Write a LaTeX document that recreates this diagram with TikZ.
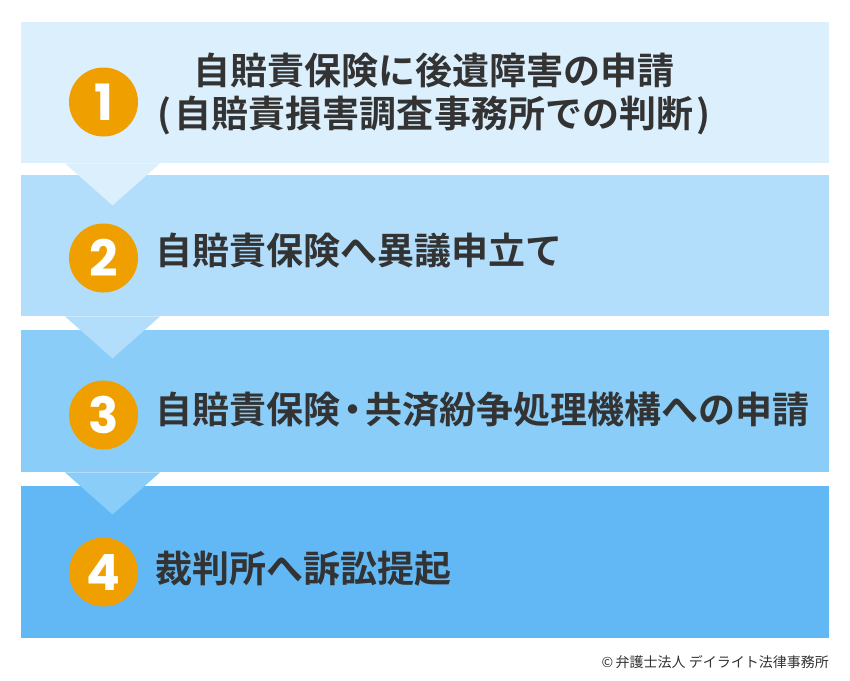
\documentclass[tikz,border=0pt]{standalone}
\usepackage{fontspec}
\setmainfont{Noto Sans CJK JP}[BoldFont={Noto Sans CJK JP Bold}]
\newfontfamily\digitfont{Poppins}[BoldFont={Poppins Bold}]
\begin{document}
\begin{tikzpicture}[x=1pt,y=-1pt,
  stepbox/.style={draw=none,rectangle,minimum width=808pt,inner sep=0pt,anchor=north west},
  numcirc/.style={circle,fill=orangeC,minimum size=69pt,inner sep=0pt,text=white,font=\digitfont\bfseries\fontsize{50}{50}\selectfont},
  steptext/.style={text=textC,font=\bfseries\fontsize{37}{43}\selectfont,inner sep=0pt},
  pointer/.style={draw=none}]
\definecolor{boxA}{HTML}{DCEFFD}
\definecolor{boxB}{HTML}{B2DDFB}
\definecolor{boxC}{HTML}{89CDF8}
\definecolor{boxD}{HTML}{62B8F5}
\definecolor{orangeC}{HTML}{EFA000}
\definecolor{textC}{HTML}{333333}
\useasboundingbox[fill=white] (0,0) rectangle (850,680);
% boxes
\node[stepbox,fill=boxA,minimum height=141pt] (b1) at (21,22) {};
\node[stepbox,fill=boxB,minimum height=141pt] (b2) at (21,175) {};
\node[stepbox,fill=boxC,minimum height=142pt] (b3) at (21,330) {};
\node[stepbox,fill=boxD,minimum height=152pt] (b4) at (21,486) {};
% pointers
\coordinate (t1) at ([xshift=91.5pt]b1.south west);
\coordinate (t2) at ([xshift=91.5pt]b2.south west);
\coordinate (t3) at ([xshift=91.5pt]b3.south west);
\fill[boxA] ([xshift=-47.5pt]t1) -- ([xshift=47.5pt]t1) -- ([yshift=-42pt]t1) -- cycle;
\fill[boxB] ([xshift=-47.5pt]t2) -- ([xshift=47.5pt]t2) -- ([yshift=-42pt]t2) -- cycle;
\fill[boxC] ([xshift=-47.5pt]t3) -- ([xshift=47.5pt]t3) -- ([yshift=-42pt]t3) -- cycle;
% circles
\node[numcirc] (c1) at (103.5,102) {\raisebox{-2pt}{1}};
\node[numcirc] (c2) at (103.5,258) {\raisebox{-2pt}{2}};
\node[numcirc] (c3) at (103.5,415) {\raisebox{-2pt}{3}};
\node[numcirc] (c4) at (103.5,572) {\raisebox{-2pt}{4}};
% texts
\node[steptext,align=center] (s1) at (434,94) {自賠責保険に後遺障害の申請\\(\hspace{4pt}自賠責損害調査事務所での判断\hspace{4pt})};
\node[steptext,anchor=west] (s2) at (155,251) {自賠責保険へ異議申立て};
\node[steptext,anchor=west] (s3) at (155,410) {自賠責保険\hspace{-6pt}・\hspace{-6pt}共済紛争処理機構への申請};
\node[steptext,anchor=west] (s4) at (155,569) {裁判所へ訴訟提起};
% copyright
\node[text=textC,font=\fontsize{14}{14}\selectfont,anchor=east,inner sep=0pt] (cr) at (829,662) {©\,弁護士法人 デイライト法律事務所};
\end{tikzpicture}
\end{document}
